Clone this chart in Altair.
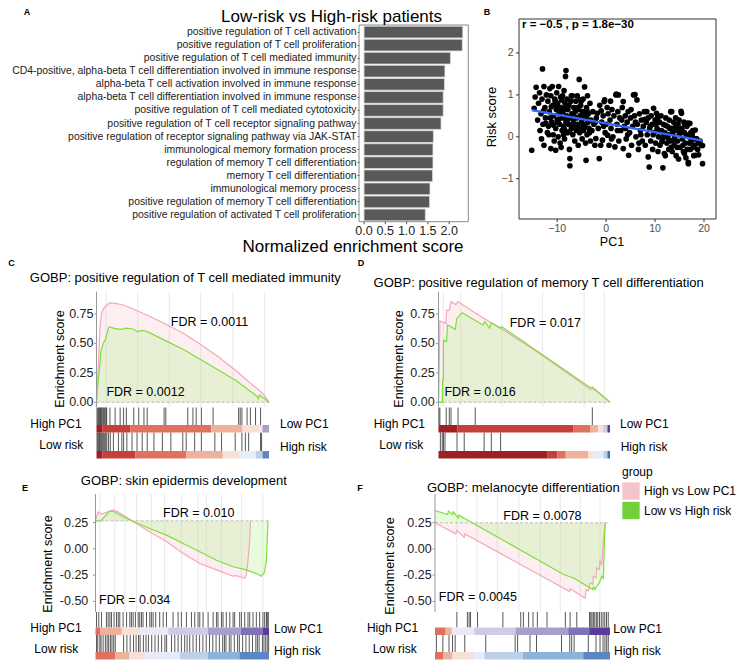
import altair as alt
import pandas as pd

FONT = "Liberation Sans"
W, H = 731, 652

# ---------------- Panel A data ----------------
go_terms = [
    "positive regulation of T cell activation",
    "positive regulation of T cell proliferation",
    "positive regulation of T cell mediated immunity",
    "CD4-positive, alpha-beta T cell differentiation involved in immune response",
    "alpha-beta T cell activation involved in immune response",
    "alpha-beta T cell differentiation involved in immune response",
    "positive regulation of T cell mediated cytotoxicity",
    "positive regulation of T cell receptor signaling pathway",
    "positive regulation of receptor signaling pathway via JAK-STAT",
    "immunological memory formation process",
    "regulation of memory T cell differentiation",
    "memory T cell differentiation",
    "immunological memory process",
    "positive regulation of memory T cell differentiation",
    "positive regulation of activated T cell proliferation",
]
go_nes = [2.32, 2.31, 2.03, 1.90, 1.89, 1.86, 1.86, 1.81, 1.63, 1.62, 1.62, 1.61, 1.55, 1.54, 1.44]
nes_ticks = [0.0, 0.5, 1.0, 1.5, 2.0]
nes_tick_labels = ["0.0", "0.5", "1.0", "1.5", "2.0"]

# ---------------- Panel B data ----------------
pc1 = [
    -15.2, -14.7, -14.5, -14.3, -14.0, -13.8, -13.6, -13.5, -13.3, -13.2, -13.0, -13.1, -12.9,
    -12.7, -12.7, -12.5, -12.4, -12.2, -12.0, -11.9, -11.8, -11.6, -11.5, -11.3, -11.3, -11.1, -11.0,
    -10.9, -10.8, -10.7, -10.6, -10.5, -10.3, -10.3, -10.2, -10.1, -10.0,
    -9.9, -9.8, -9.7, -9.6, -9.5, -9.4, -9.3, -9.2, -9.2, -9.0, -8.9, -8.9, -8.8, -8.7, -8.6, -8.5,
    -8.4, -8.3, -8.2, -8.2, -8.1, -8.0, -7.9, -7.8, -7.7, -7.6, -7.5, -7.4, -7.4, -7.3, -7.2, -7.1, -7.0,
    -6.9, -6.8, -6.7, -6.6, -6.5, -6.4, -6.3, -6.2, -6.1, -6.0, -5.9, -5.8, -5.7, -5.6, -5.5, -5.4,
    -5.3, -5.2, -5.1, -5.0, -4.9, -4.8, -4.7, -4.6, -4.5, -4.4, -4.3, -4.2, -4.1, -4.0, -3.9, -3.8,
    -3.7, -3.6, -3.5, -3.3, -3.2, -3.1,
    -2.9, -2.7, -2.5, -2.3, -2.1, -2.0, -1.8, -1.6, -1.4, -1.3, -1.1, -0.9, -0.75, -0.6, -0.4, -0.3,
    -0.2, 0.0, 0.3, 0.4, 0.6, 0.8, 1.0, 1.2, 1.4, 1.6, 1.8, 2.0, 2.1, 2.2, 2.4, 2.5, 2.6, 2.8, 3.0,
    3.3, 3.5, 3.5, 3.7, 3.9, 4.1, 4.3, 4.5, 4.6, 4.8, 5.0, 5.2, 5.4, 5.6, 5.8, 5.9, 6.1, 6.3, 6.4,
    6.6, 6.8, 7.0, 7.2, 7.4, 7.6, 7.8,
    8.0, 8.2, 8.3, 8.4, 8.6, 8.6, 8.8, 8.9, 9.1, 9.2, 9.4, 9.5, 9.7, 9.8, 10.0, 10.1, 10.3, 10.4,
    10.6, 10.7, 10.9, 11.0, 11.2, 11.3, 11.5, 11.6, 11.7, 11.9, 12.0, 12.1, 12.2, 12.4, 12.5, 12.7,
    12.8, 12.9,
    13.1, 13.2, 13.3, 13.4, 13.5, 13.6, 13.8, 13.9, 14.0, 14.2, 14.3, 14.4, 14.6, 14.7, 14.8, 15.0,
    15.1, 15.3, 15.4, 15.5, 15.6, 15.8, 15.9, 16.0, 16.2, 16.3, 16.5, 16.7, 16.8, 16.8, 16.9, 17.1,
    17.2, 17.4, 17.6, 17.7, 17.9, 18.0, 18.2, 18.2, 18.5, 18.7, 18.9, 19.2, 19.5, 19.7, 19.7,
    -12.8, -12.3, -11.7, -11.2, -10.8, -10.4, -9.9, -9.5, -9.1, -8.7, -8.3, -7.9, -7.5, -7.1, -6.7,
    -6.3, -5.9, -5.5, -5.1, -4.7, -4.3, -3.9, -3.4, -11.4, -10.0, -8.5, -6.9, -5.3, -4.0, -9.7,
    9.0, 9.6, 10.2, 10.8, 11.4, 12.0, 12.6, 13.0, 13.7, 14.1, 14.5, 14.9, 15.2, 15.7, 16.1, 16.4,
    16.6, 17.0, 17.3, 17.8, 18.3, 18.8, 10.5, 11.8, 13.3, 14.8, 16.0, 17.5,
    -2.2, -1.0, 0.2, 1.1, 2.3, 3.2, 4.0, 5.1, 6.0, 7.1, 7.9, 0.9, -0.5, 4.4, 6.7,
]
risk = [
    -0.32, 0.68, 0.95, 1.18, 0.40, 0.80, 1.05, 0.15, 0.55, -0.05, 1.62, 0.90, 0.30,
    1.20, -0.20, 0.70, 0.45, 1.00, 0.10, 0.85, 0.25, 0.60, 1.15, -0.28, 0.98, 0.35, 1.20,
    0.75, 0.05, 0.50, -0.10, 0.90, 0.20, -0.32, 0.65, 1.05, 0.40,
    0.80, 0.00, 1.20, 0.55, 0.30, -0.15, 0.95, 0.70, -0.25, 0.15, 0.45, 0.98, 0.60, 0.25, 1.10, -0.05,
    0.80, 1.44, 1.58, 0.35, 0.50, 0.90, 0.10, 0.65, 0.30, 0.75, -0.30, -0.52, -0.69, 0.45, 0.85, 0.20, 0.55,
    0.98, 0.05, 0.40, 0.70, 0.25, -0.10, 0.60, 0.85, 0.15, 0.45, 0.98, 0.30, -0.20, 0.65, 1.37, 0.10,
    0.50, 0.75, 0.20, 0.35, -0.05, 0.60, 0.90, 0.15, 0.45, 1.19, 0.25, -0.15, -0.56, 0.70, 0.05, 0.98,
    0.35, 0.55, 0.20, 0.80, -0.10, 0.40,
    0.15, 0.60, 0.30, -0.20, -0.04, 0.45, 0.56, 0.20, -0.52, 0.75, -0.20, 0.35, -0.08, 0.50, 0.84, 0.88,
    0.10, 0.30, 0.04, 0.55, -0.20, 0.40, 0.20, 0.65, 0.00, 0.50, -0.24, 1.00, 1.02, 0.30, 0.60, 1.00, -0.10, 0.45, 0.15,
    0.70, 0.84, -0.28, 0.25, 0.50, -0.05, 0.35, 0.60, -0.44, 0.10, 0.45, -0.20, 0.25, 1.00, 0.50, 1.01, 0.00, 0.88, 0.30,
    -0.30, 0.55, 0.15, 0.40, -0.10, 0.25, 0.60,
    -0.20, 0.35, 0.60, 0.05, -0.48, 0.45, -0.72, 0.20, -0.10, 0.50, 0.30, -0.30, 0.68, 0.10, 0.40, -0.15, 0.56, 0.20,
    -0.35, 0.00, 0.35, -0.20, 0.50, 0.15, -0.05, -0.74, 0.30, -0.40, 0.10, -0.45, 0.45, -0.15, 0.25, 0.05,
    -0.30, 0.40,
    -0.10, 0.60, 0.20, 0.60, -0.35, 0.10, 0.35, -0.20, 0.00, 0.45, -0.45, 0.15, -0.10, 0.30, -0.53, 0.05,
    -0.25, 0.61, 0.56, 0.20, -0.05, -0.35, 0.35, 0.10, -0.15, -0.50, 0.25, 0.33, -0.61, -0.64, 0.00, 0.32,
    -0.30, -0.10, 0.05, 0.15, -0.45, -0.20, 0.16, -0.44, -0.05, -0.30, -0.43, -0.10, -0.20, -0.21, -0.64,
    0.62, 0.32, 0.05, 0.72, 0.28, 0.85, 0.35, 0.58, 0.88, 0.05, 0.68, 0.40, 0.12, 0.98, 0.55,
    0.30, 0.70, 0.20, 0.85, 0.30, 0.55, 0.62, 0.10, 0.45, 0.75, 0.18, 0.30, 0.88, 0.45, 0.42,
    0.25, 0.05, 0.30, 0.15, -0.12, 0.28, -0.02, 0.20, -0.08, 0.22, -0.25, 0.40, 0.12, -0.20, 0.30, 0.05,
    -0.30, -0.15, 0.10, -0.25, -0.05, -0.15, 0.45, 0.05, -0.25, 0.18, -0.40, -0.02,
    0.35, 0.62, 0.70, -0.05, 0.15, 0.40, 0.20, 0.65, 0.35, 0.05, 0.42, 0.85, 0.25, 0.05, -0.15,
]
pc1_ticks = [-10, 0, 10, 20]
pc1_tick_labels = ["\u221210", "0", "10", "20"]
risk_ticks = [-1, 0, 1, 2]
risk_tick_labels = ["\u22121", "0", "1", "2"]
cor_label = ["r =  \u22120.5 ,  p =  1.8e\u221230"]

# ---------------- GSEA shared ----------------
groups = ["High vs Low PC1", "Low vs High risk"]
strip_labels = ["High PC1", "Low risk", "Low PC1", "High risk"]
es_ticks_up = [0, 0.25, 0.5, 0.75]
es_labels_up = ["0.00", "0.25", "0.50", "0.75"]
es_ticks_dn = [-0.5, -0.25, 0, 0.25]
es_labels_dn = ["-0.50", "-0.25", "0.00", "0.25"]
level_codes = ["R5", "R4", "R3", "R2", "R1", "P1", "P2", "P3", "P4", "P5", "B1", "B2", "B3", "B4", "B5"]
level_colors = ["#9e1f24", "#c6403b", "#de725e", "#eeb29c", "#f7e1d6",
                "#ebe9f4", "#cfcbe4", "#a7a0cd", "#7f72b7", "#5a3b9c",
                "#e6ecf8", "#bcd1e9", "#8db3db", "#5a87c2", "#3c6fb3"]

# ---------------- Panel C data ----------------
c_title = "GOBP: positive regulation of T cell mediated immunity"
c_fdr = ["FDR = 0.0011", "FDR = 0.0012"]
c_pc1_rank = [0, 0.4, 1.2, 2.0, 2.9, 4.3, 5.9, 7.8, 10.8, 15.7, 21.6, 31.4, 41.2, 51.0, 60.8, 70.6, 80.4, 88.2, 94.1, 97.1, 100]
c_pc1_es = [0.02, 0.10, 0.36, 0.64, 0.755, 0.80, 0.826, 0.845, 0.84, 0.826, 0.79, 0.727, 0.656, 0.58, 0.486, 0.387, 0.274, 0.175, 0.104, 0.062, 0.0]
c_risk_rank = [0, 0.6, 1.6, 2.5, 3.9, 5.1, 5.9, 6.9, 7.8, 9.8, 13.7, 17.6, 21.6, 23.5, 26.5, 29.4, 41.2, 51.0, 60.8, 70.6, 80.4, 88.2, 93.1, 93.7, 94.5, 98.0, 100]
c_risk_es = [0.02, 0.12, 0.27, 0.43, 0.50, 0.53, 0.57, 0.63, 0.64, 0.63, 0.62, 0.63, 0.62, 0.60, 0.61, 0.60, 0.515, 0.444, 0.36, 0.274, 0.19, 0.104, 0.05, 0.03, 0.06, 0.025, 0.0]
c_pc1_hits = [0.3, 0.8, 1.3, 1.8, 2.3, 2.8, 3.3, 3.9, 4.4, 4.9, 5.5, 5.9, 7.8, 10.8, 13.7, 15.7, 17.3, 21.6, 24.5, 27.5, 29.4, 39.2, 40.2, 52.9, 55.9, 57.8, 60.8, 67.6, 82.4, 83.3, 84.3, 87.3, 89.2, 92.2, 95.1]
c_risk_hits = [0.3, 0.8, 1.3, 1.8, 2.4, 3.0, 3.6, 4.2, 4.8, 5.4, 6.0, 7.0, 8.0, 9.8, 12.7, 14.7, 15.7, 17.6, 20.6, 23.5, 26.5, 29.4, 33.3, 38.2, 43.1, 50.0, 52.0, 56.9, 60.8, 68.6, 72.5, 80.4, 84.3, 86.3, 88.2, 95.1, 95.7]
c_pc1_breaks = [0, 3.3, 19.5, 66.5, 84.7, 94.3, 96.2, 100]
c_pc1_levels = ["R5", "R4", "R3", "R2", "R1", "P1", "P3"]
c_risk_breaks = [0, 3.3, 22.4, 52.1, 73.2, 82.8, 92.4, 96.2, 100]
c_risk_levels = ["R5", "R4", "R3", "R2", "R1", "B1", "B2", "B4"]
c_grid = [5.5, 23.9, 42.2, 60.4, 79.0, 97.5]

# ---------------- Panel D data ----------------
d_title = "GOBP: positive regulation of memory T cell differentiation"
d_fdr = ["FDR = 0.017", "FDR = 0.016"]
d_pc1_rank = [0, 0.4, 0.8, 4.3, 4.7, 6.3, 7.3, 10.2, 11.2, 22.0, 26.9, 36.7, 57.4, 88.8, 90.4, 100]
d_pc1_es = [0.0, 0.28, 0.69, 0.67, 0.78, 0.78, 0.855, 0.83, 0.855, 0.754, 0.71, 0.624, 0.43, 0.107, 0.115, 0.0]
d_risk_rank = [0, 2.3, 2.4, 2.8, 2.9, 4.7, 5.3, 9.8, 10.6, 13.8, 25.9, 26.9, 29.9, 30.8, 36.1, 36.7, 88.8, 89.6, 100]
d_risk_es = [0.0, 0.0, 0.19, 0.19, 0.53, 0.515, 0.657, 0.62, 0.71, 0.76, 0.657, 0.685, 0.63, 0.674, 0.63, 0.643, 0.122, 0.13, 0.0]
d_pc1_hits = [0.2, 0.8, 4.5, 6.3, 7.3, 11.4, 21.4, 89.7]
d_risk_hits = [1.1, 2.2, 2.9, 3.8, 10.8, 15.0, 26.6, 30.8, 36.2]
d_pc1_breaks = [0, 11.1, 78.8, 88.7, 93.1, 96.0, 98.5, 100]
d_pc1_levels = ["R5", "R4", "R3", "R2", "R1", "P2", "P5"]
d_risk_breaks = [0, 63.7, 69.4, 74.2, 87.2, 90.4, 96.2, 98.5, 100]
d_risk_levels = ["R5", "R4", "R3", "R2", "R1", "B1", "B2", "B5"]
d_grid = [2.8, 13.0, 37.1, 60.7, 84.9, 96.7]

# ---------------- Panel E data ----------------
e_title = "GOBP: skin epidermis development"
e_fdr = ["FDR = 0.010", "FDR = 0.034"]
e_pc1_rank = [0, 1.5, 3.5, 6.0, 10.2, 13.1, 17.9, 23.6, 31.3, 40.9, 50.5, 60.1, 69.7, 79.3, 81.5, 84.1, 86.0, 86.9, 87.9, 88.9, 89.3]
e_pc1_es = [0.266, 0.35, 0.33, 0.345, 0.37, 0.35, 0.30, 0.24, 0.16, 0.07, -0.044, -0.139, -0.20, -0.26, -0.255, -0.27, -0.28, -0.25, -0.11, 0.08, 0.266]
e_risk_rank = [0, 3.0, 5.5, 8.3, 11.1, 15.9, 21.7, 31.3, 40.9, 50.5, 60.1, 69.7, 79.3, 86.9, 92.7, 95.6, 97.5, 98.5, 99.4]
e_risk_es = [0.266, 0.266, 0.31, 0.36, 0.35, 0.305, 0.26, 0.193, 0.13, 0.05, -0.028, -0.108, -0.17, -0.20, -0.235, -0.26, -0.22, -0.11, 0.266]
e_pc1_hits = [0.6, 1.9, 3.5, 6.3, 7.3, 8.3, 9.2, 10.7, 12.1, 13.1, 14.0, 15.9, 17.9, 19.8, 20.7, 21.7, 23.0, 24.6,
              25.5, 26.5, 27.4, 29.4, 31.3, 32.2, 33.2, 34.7, 37.0, 39.0, 40.9, 44.7, 47.6, 49.5, 52.4, 55.3, 57.2,
              59.1, 60.1, 62.0, 64.9, 67.8, 69.7, 70.6, 72.6, 73.5, 75.4, 77.4, 79.3, 80.2, 83.1, 84.1, 86.0, 87.9,
              88.9, 90.8, 92.7, 94.6, 96.5, 97.5, 98.5, 99.0, 99.6]
e_risk_hits = [0.6, 1.3, 2.5, 3.2, 4.4, 5.7, 6.7, 7.6, 8.6, 9.5, 10.5, 11.4, 16.2, 18.1, 20.0, 21.9, 23.4, 24.8, 25.7,
               27.6, 29.1, 30.5, 32.4, 34.3, 36.2, 38.1, 40.0, 41.0, 43.8, 45.7, 47.6, 49.5, 51.4, 52.8, 54.3, 56.2,
               58.1, 60.0, 61.9, 63.8, 65.7, 67.6, 69.5, 71.4, 73.3, 74.3, 75.2, 77.1, 78.1, 80.0, 81.9, 82.9, 84.8,
               86.7, 88.6, 90.5, 92.4, 93.3, 94.3, 96.2, 97.1, 98.1, 99.0, 99.8]
e_pc1_breaks = [0, 2.9, 15.2, 25.7, 41.9, 64.8, 83.8, 96.2, 100]
e_pc1_levels = ["R3", "R2", "R1", "P1", "P2", "P3", "P4", "P5"]
e_risk_breaks = [0, 11.4, 19.6, 28.6, 48.6, 64.8, 82.9, 100]
e_risk_levels = ["R3", "R2", "R1", "B1", "B2", "B3", "B4"]
e_grid = [2.5, 11.1, 16.9, 23.6, 32.2, 39.9, 49.5, 59.1, 63.9, 72.6, 84.1, 96.5]

# ---------------- Panel F data ----------------
f_title = "GOBP: melanocyte differentiation"
f_fdr = ["FDR = 0.0078", "FDR = 0.0045"]
f_pc1_rank = [0, 11.9, 12.5, 16.7, 17.0, 19.5, 77.0, 77.3, 85.8, 86.4, 87.7, 88.6, 90.2, 90.5, 92.0, 92.4, 93.9, 94.3, 95.3, 96.2, 97.2]
f_pc1_es = [0.247, 0.142, 0.174, 0.11, 0.142, 0.12, -0.406, -0.38, -0.47, -0.386, -0.40, -0.323, -0.339, -0.26, -0.275, -0.18, -0.196, -0.117, -0.149, 0.072, 0.247]
f_risk_rank = [0, 7.2, 7.6, 10.0, 10.4, 13.3, 13.6, 73.5, 79.2, 90.2, 90.5, 91.5, 92.4, 93.9, 95.3, 96.2, 97.2]
f_risk_es = [0.364, 0.326, 0.358, 0.326, 0.351, 0.294, 0.32, -0.244, -0.277, -0.386, -0.364, -0.386, -0.355, -0.323, -0.26, -0.28, 0.247]
f_pc1_hits = [12.5, 18.5, 19.5, 20.3, 24.3, 38.8, 49.0, 50.5, 53.5, 56.0, 58.5, 64.0, 74.5, 77.2, 81.0, 88.3, 89.0,
              89.7, 90.5, 91.3, 92.2, 93.0, 94.0, 95.0, 96.0, 97.0, 98.0, 99.0]
f_risk_hits = [0.8, 4.5, 8.0, 10.0, 11.5, 17.0, 29.0, 45.8, 47.2, 54.3, 58.0, 72.3, 77.0, 78.1, 79.5, 87.6, 92.0, 94.3,
               96.0, 97.1, 98.1, 99.0]
f_pc1_breaks = [0, 6.1, 9.6, 22.4, 46.0, 76.1, 88.1, 100]
f_pc1_levels = ["R3", "R2", "P1", "P2", "P3", "P4", "P5"]
f_risk_breaks = [0, 4.6, 10.0, 22.4, 28.2, 50.2, 84.7, 100]
f_risk_levels = ["R3", "R2", "R1", "B1", "B2", "B3", "B4"]
f_grid = [12.5, 23.9, 35.6, 47.9, 60.2, 71.6, 83.0, 94.3]

# ---------------- styles ----------------
PINK_LINE = "#f2a9b7"
GREEN_LINE = "#7ddf3a"
PINK_FILL = "#f4a9b8"
GREEN_FILL = "#bcf49f"
PINK_KEY = "#f4c3cc"
GREEN_KEY = "#74cf3c"
ONE = pd.DataFrame({"k": [0]})


def text_at(text, x, y, size=12, align="center", weight="normal", angle=0, color="#000000"):
    return alt.Chart(pd.DataFrame({"t": [text]})).mark_text(
        font=FONT, fontSize=size, align=align, baseline="middle", fontWeight=weight,
        angle=angle, color=color
    ).encode(text="t:N", x=alt.value(x), y=alt.value(y))


def y_ticks(scale, x_axis, ticks, labels, gap, size, lab_color, tick_color, tick_len=2.5):
    df = pd.DataFrame({"v": ticks, "lab": labels})
    tk = alt.Chart(df).mark_rule(color=tick_color, strokeWidth=1).encode(
        y=alt.Y("v:Q", scale=scale, axis=None),
        x=alt.value(x_axis - tick_len), x2=alt.value(x_axis))
    lb = alt.Chart(df).mark_text(font=FONT, fontSize=size, align="right", baseline="middle",
                                 color=lab_color).encode(
        y=alt.Y("v:Q", scale=scale, axis=None), x=alt.value(x_axis - gap), text="lab:N")
    return [tk, lb]


def x_ticks(scale, y_axis, ticks, labels, lab_y, size, lab_color, tick_color, tick_len=2.5):
    df = pd.DataFrame({"v": ticks, "lab": labels})
    tk = alt.Chart(df).mark_rule(color=tick_color, strokeWidth=1).encode(
        x=alt.X("v:Q", scale=scale, axis=None),
        y=alt.value(y_axis), y2=alt.value(y_axis + tick_len))
    lb = alt.Chart(df).mark_text(font=FONT, fontSize=size, align="center", baseline="middle",
                                 color=lab_color).encode(
        x=alt.X("v:Q", scale=scale, axis=None), y=alt.value(lab_y), text="lab:N")
    return [tk, lb]


# ---------------- Panel A ----------------
A_XDOM = [-0.118, 2.45]
a_xs = alt.Scale(domain=A_XDOM, range=[351, 460.3], nice=False, zero=False)
a_ys = alt.Scale(domain=go_terms, range=[17.5, 213.5], paddingInner=0.1, paddingOuter=0.05)
dfA = pd.DataFrame({"term": go_terms, "nes": go_nes})
barsA = alt.Chart(dfA).mark_bar(color="#595959", stroke="#dddddd", strokeWidth=0.8).encode(
    x=alt.X("nes:Q", scale=a_xs, axis=None),
    y=alt.Y("term:N", scale=a_ys, sort=None, axis=alt.Axis(
        orient="left", offset=-351, title=None, labelFont=FONT, labelFontSize=10.4,
        labelColor="#1a1a1a", tickSize=2, tickColor="#555555", domain=False, grid=False,
        labelPadding=1, labelLimit=0)),
)
boxA = alt.Chart(pd.DataFrame({"x0": [A_XDOM[0]], "x1": [A_XDOM[1]]})).mark_rect(
    fillOpacity=0, stroke="#8a8a8a", strokeWidth=1).encode(
    x=alt.X("x0:Q", scale=a_xs, axis=None), x2="x1:Q",
    y=alt.value(17), y2=alt.value(213.7))
panelA = alt.layer(
    barsA, boxA,
    *x_ticks(a_xs, 213.7, nes_ticks, nes_tick_labels, 222.5, 12.5, "#222222", "#555555"),
    text_at("Low-risk vs High-risk patients", 323.5, 8.5, size=17),
    text_at("Normalized enrichment score", 345, 239, size=17),
    text_at("A", 19, 4, size=9, weight="bold"),
)

# ---------------- Panel B ----------------
B_XDOM = [-17.8, 22.45]
B_YDOM = [-1.96, 2.81]
b_xs = alt.Scale(domain=B_XDOM, range=[511, 708], nice=False, zero=False)
b_ys = alt.Scale(domain=B_YDOM, range=[211, 11], nice=False, zero=False)
dfB = pd.DataFrame({"pc1": pc1, "risk": risk})
ptsB = alt.Chart(dfB).mark_circle(size=32, color="#000000", opacity=1).encode(
    x=alt.X("pc1:Q", scale=b_xs, axis=None),
    y=alt.Y("risk:Q", scale=b_ys, axis=None),
)
regB = alt.Chart(dfB).transform_regression("pc1", "risk").mark_line(color="#3366ff", strokeWidth=2.3).encode(
    x=alt.X("pc1:Q", scale=b_xs, axis=None), y=alt.Y("risk:Q", scale=b_ys, axis=None))
boxB = alt.Chart(pd.DataFrame({"x0": [B_XDOM[0]], "x1": [B_XDOM[1]],
                               "y0": [B_YDOM[0]], "y1": [B_YDOM[1]]})).mark_rect(
    fillOpacity=0, stroke="#333333", strokeWidth=1).encode(
    x=alt.X("x0:Q", scale=b_xs, axis=None), x2="x1:Q",
    y=alt.Y("y0:Q", scale=b_ys, axis=None), y2="y1:Q")
panelB = alt.layer(
    ptsB, regB, boxB,
    *x_ticks(b_xs, 211, pc1_ticks, pc1_tick_labels, 221, 10.5, "#4d4d4d", "#333333", tick_len=3),
    *y_ticks(b_ys, 511, risk_ticks, risk_tick_labels, 5.5, 10.5, "#4d4d4d", "#333333", tick_len=3),
    text_at("PC1", 604, 234, size=12.5),
    text_at("Risk score", 484, 109, size=13, angle=270),
    text_at(cor_label[0], 514, 17, size=11.5, align="left", weight="bold"),
    text_at("B", 479, 4, size=9, weight="bold"),
)


# ---------------- GSEA panels ----------------
def gsea_panel(L, pc1_rank, pc1_es, risk_rank, risk_es, pc1_hits, risk_hits,
               pc1_breaks, pc1_levels, risk_breaks, risk_levels, grid, fdr, title, letter, legend=False):
    xs = alt.Scale(domain=[0, 100], range=[L["x0"], L["x1"]], nice=False, zero=False)
    ys = alt.Scale(domain=L["ydom"], range=[L["ybot"], L["ytop"]], nice=False, zero=False)
    base = L["base"]
    cp = pd.DataFrame({"rank": pc1_rank, "es": pc1_es})
    cp["base"] = base
    cr = pd.DataFrame({"rank": risk_rank, "es": risk_es})
    cr["base"] = base
    layers = []
    layers.append(alt.Chart(pd.DataFrame({"g": grid})).mark_rule(color="#e9e9e9", strokeWidth=1).encode(
        x=alt.X("g:Q", scale=xs, axis=None),
        y=alt.value(L["ytop"]), y2=alt.value(L["ybot"])))
    layers.append(alt.Chart(cp).mark_area(color=PINK_FILL, opacity=0.2).encode(
        x=alt.X("rank:Q", scale=xs, axis=None),
        y=alt.Y("es:Q", scale=ys, axis=None, stack=None), y2="base:Q"))
    layers.append(alt.Chart(cr).mark_area(color=GREEN_FILL, opacity=0.35).encode(
        x=alt.X("rank:Q", scale=xs, axis=None),
        y=alt.Y("es:Q", scale=ys, axis=None, stack=None), y2="base:Q"))
    bl = pd.DataFrame({"r0": [0], "r1": [100], "es": [base]})
    layers.append(alt.Chart(bl).mark_rule(color="#b0b0b0", strokeDash=[3, 2], strokeWidth=0.8).encode(
        x=alt.X("r0:Q", scale=xs, axis=None), x2="r1:Q",
        y=alt.Y("es:Q", scale=ys, axis=None)))
    layers.append(alt.Chart(cp).mark_line(color=PINK_LINE, strokeWidth=1.2).encode(
        x=alt.X("rank:Q", scale=xs, axis=None), y=alt.Y("es:Q", scale=ys, axis=None)))
    layers.append(alt.Chart(cr).mark_line(color=GREEN_LINE, strokeWidth=1.2).encode(
        x=alt.X("rank:Q", scale=xs, axis=None), y=alt.Y("es:Q", scale=ys, axis=None)))
    fdf = pd.DataFrame({"t": fdr, "rank": [p[0] for p in L["fdr"]], "es": [p[1] for p in L["fdr"]]})
    layers.append(alt.Chart(fdf).mark_text(font=FONT, fontSize=12.5, color="#000000", baseline="middle").encode(
        x=alt.X("rank:Q", scale=xs, axis=None), y=alt.Y("es:Q", scale=ys, axis=None), text="t:N"))
    # y axis: domain line, ticks, labels, title
    layers.append(alt.Chart(ONE).mark_rule(color="#999999", strokeWidth=1).encode(
        x=alt.value(L["x0"]), y=alt.value(L["ytop"]), y2=alt.value(L["ybot"])))
    layers += y_ticks(ys, L["x0"], L["yticks"], L["ylabels"], L["lab_gap"], 12.5, "#222222", "#999999")
    layers.append(text_at("Enrichment score", L["ytitle"][0], L["ytitle"][1], size=12.5, angle=270))
    for hits, (t, b) in [(pc1_hits, L["hits1"]), (risk_hits, L["hits2"])]:
        layers.append(alt.Chart(pd.DataFrame({"rank": hits})).mark_rule(
            color="#111111", opacity=0.7, strokeWidth=1).encode(
            x=alt.X("rank:Q", scale=xs, axis=None), y=alt.value(t), y2=alt.value(b)))
    for breaks, levels, (t, b) in [(pc1_breaks, pc1_levels, L["bar1"]), (risk_breaks, risk_levels, L["bar2"])]:
        bdf = pd.DataFrame({"start": breaks[:-1], "end": breaks[1:], "level": levels})
        layers.append(alt.Chart(bdf).mark_rect().encode(
            x=alt.X("start:Q", scale=xs, axis=None), x2="end:Q",
            y=alt.value(t), y2=alt.value(b),
            color=alt.Color("level:N", scale=alt.Scale(domain=level_codes, range=level_colors), legend=None)))
    lx, rx, ly = L["lab_left_x"], L["lab_right_x"], L["lab_y"]
    layers.append(text_at(strip_labels[0], lx[0], ly[0], size=12, align="right"))
    layers.append(text_at(strip_labels[1], lx[1], ly[1], size=12, align="right"))
    layers.append(text_at(strip_labels[2], rx[0], ly[2], size=12, align="left"))
    layers.append(text_at(strip_labels[3], rx[1], ly[3], size=12, align="left"))
    layers.append(text_at(title, L["title"][0], L["title"][1], size=13))
    layers.append(text_at(letter, L["letter"][0], L["letter"][1], size=9, weight="bold"))
    if legend:
        layers.append(alt.Chart(pd.DataFrame({"group": groups})).mark_square(size=10, opacity=1).encode(
            x=alt.value(-60), y=alt.value(-60),
            fill=alt.Fill("group:N", scale=alt.Scale(domain=groups, range=[PINK_KEY, GREEN_KEY]),
                          legend=alt.Legend(
                              orient="none", legendX=614, legendY=459, title="group",
                              titleFont=FONT, titleFontSize=12, titleFontWeight="normal",
                              titleColor="#000000", titlePadding=3, labelFont=FONT,
                              labelFontSize=12, labelColor="#000000", symbolType="square",
                              symbolSize=300, symbolStrokeWidth=0, symbolOpacity=1,
                              rowPadding=1.5, labelOffset=4, labelLimit=0))))
    return alt.layer(*layers)


LC = dict(x0=88.5, x1=261, ydom=[-0.04, 0.94], ybot=399, ytop=283.6, base=0.0,
          yticks=es_ticks_up, ylabels=es_labels_up, lab_gap=3.0, ytitle=(52, 351),
          hits1=(399.5, 417), bar1=(417, 424.5),
          hits2=(424.5, 443), bar2=(443, 450.5), fdr=[(65.5, 0.684), (28.4, 0.09)],
          lab_left_x=(73.7, 75.3), lab_right_x=(272, 272), lab_y=(416.3, 437, 416.3, 439),
          title=(177.3, 270.3), letter=(3.5, 254.7))
LD = dict(LC, x0=430.5, x1=602, fdr=[(62.3, 0.67), (24.2, 0.088)], lab_gap=3.8, ytitle=(391.3, 351),
          lab_left_x=(417, 415.3), lab_right_x=(612, 612.7),
          title=(530.7, 274.7), letter=(353, 254.7))
LE = dict(x0=87.5, x1=261, ydom=[-0.6, 0.52], ybot=604, ytop=486.1, base=0.266,
          yticks=es_ticks_dn, ylabels=es_labels_dn, lab_gap=7.2, ytitle=(40.3, 556),
          hits1=(604, 619.5), bar1=(619.5, 627),
          hits2=(627, 644), bar2=(644, 651.5), fdr=[(59.5, 0.336), (22.6, -0.487)],
          lab_left_x=(73.7, 70.3), lab_right_x=(266, 266), lab_y=(620, 640.5, 620.5, 642.5),
          title=(175.8, 472.7), letter=(17, 480.3))
LF = dict(LE, x0=427, x1=602, base=0.247, fdr=[(61.4, 0.31), (24.5, -0.459)], lab_gap=3.3,
          ytitle=(382, 558),
          lab_left_x=(410.3, 408.7), lab_right_x=(605.3, 606),
          title=(515.3, 480.3), letter=(352, 480.3))

panelC = gsea_panel(LC, c_pc1_rank, c_pc1_es, c_risk_rank, c_risk_es, c_pc1_hits, c_risk_hits,
                    c_pc1_breaks, c_pc1_levels, c_risk_breaks, c_risk_levels, c_grid, c_fdr, c_title, "C")
panelD = gsea_panel(LD, d_pc1_rank, d_pc1_es, d_risk_rank, d_risk_es, d_pc1_hits, d_risk_hits,
                    d_pc1_breaks, d_pc1_levels, d_risk_breaks, d_risk_levels, d_grid, d_fdr, d_title, "D")
panelE = gsea_panel(LE, e_pc1_rank, e_pc1_es, e_risk_rank, e_risk_es, e_pc1_hits, e_risk_hits,
                    e_pc1_breaks, e_pc1_levels, e_risk_breaks, e_risk_levels, e_grid, e_fdr, e_title, "E")
panelF = gsea_panel(LF, f_pc1_rank, f_pc1_es, f_risk_rank, f_risk_es, f_pc1_hits, f_risk_hits,
                    f_pc1_breaks, f_pc1_levels, f_risk_breaks, f_risk_levels, f_grid, f_fdr, f_title, "F",
                    legend=True)

chart = alt.layer(panelA, panelB, panelC, panelD, panelE, panelF).resolve_scale(
    x="independent", y="independent", color="independent", fill="independent"
).properties(
    width=W, height=H, autosize=alt.AutoSizeParams(type="none"), padding=0
).configure(font=FONT).configure_view(strokeWidth=0)

chart.save("out.html", embed_options={"renderer": "svg", "actions": False})
